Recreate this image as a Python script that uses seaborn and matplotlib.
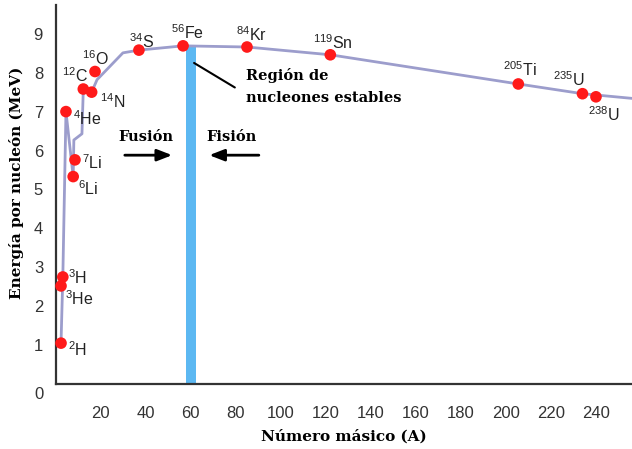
import numpy as np
import pandas as pd
import seaborn as sns
import matplotlib.pyplot as plt

# data
isotopes = ["$^{2}$H", "$^{3}$H", "$^{3}$He", "$^{4}$He", "$^{6}$Li", "$^{7}$Li",
            "$^{12}$C", "$^{14}$N", "$^{16}$O", "$^{34}$S", "$^{56}$Fe", "$^{84}$Kr",
            "$^{119}$Sn", "$^{205}$Ti", "$^{235}$U", "$^{238}$U"]
mass_A = [2.4, 3.2, 2.4, 4.6, 7.8, 8.6, 12.3, 16.0, 17.5, 37.0, 56.6, 85.0,
          122.0, 205.5, 234.0, 240.0]
energy = [1.05, 2.75, 2.52, 7.0, 5.33, 5.76, 7.58, 7.50, 8.03, 8.58, 8.69, 8.66,
          8.46, 7.71, 7.46, 7.38]

# label anchor positions (A, E) for each isotope name
label_A = [5.5, 5.5, 4.1, 7.6, 10.0, 11.6, 3.0, 19.7, 11.8, 32.5, 51.2, 80.2,
           114.5, 198.5, 221.0, 236.6]
label_E = [0.87, 2.72, 2.2, 6.83, 5.03, 5.68, 7.92, 7.26, 8.37, 8.8, 9.02, 8.97,
           8.76, 8.07, 7.81, 6.92]

# the smooth curve behind the points
curve_A = [2.4, 3.2, 4.6, 7.8, 8.1, 11.7, 12.3, 16.0, 18.4, 29.9, 37.0, 56.6,
           85.0, 122.0, 205.5, 234.0, 256.0]
curve_E = [1.05, 2.75, 7.0, 5.33, 6.27, 6.43, 7.58, 7.50, 7.82, 8.51, 8.58, 8.69,
           8.66, 8.46, 7.71, 7.46, 7.34]

band_A = [58.0, 62.5]
x_ticks = list(range(20, 241, 20))
y_ticks = list(range(1, 10))

sns.set_style("white")
plt.rcParams["font.family"] = ["Liberation Sans", "DejaVu Sans"]
plt.rcParams["mathtext.fontset"] = "custom"
plt.rcParams["mathtext.rm"] = "Liberation Sans"
plt.rcParams["mathtext.it"] = "Liberation Sans"
plt.rcParams["mathtext.bf"] = "Liberation Sans:bold"

serif_bold = dict(family="DejaVu Serif", fontweight="bold", color="black")

fig = plt.figure(figsize=(6.32, 4.49), dpi=100)
ax = fig.add_axes([0.088, 0.1448, 0.912, 0.8441])

# stable region band
fe_E = energy[isotopes.index("$^{56}$Fe")]
ax.fill_between(band_A, 0, fe_E - 0.03, color="#5cb8f2", lw=0, zorder=1)

curve = pd.DataFrame({"A": curve_A, "E": curve_E})
sns.lineplot(data=curve, x="A", y="E", sort=False, color="#9c9dcc", lw=2,
             ax=ax, zorder=2)

pts = pd.DataFrame({"A": mass_A, "E": energy})
sns.scatterplot(data=pts, x="A", y="E", color="#ff1a1a", s=70, edgecolor="none",
                ax=ax, zorder=3, clip_on=False)

for name, lx, ly in zip(isotopes, label_A, label_E):
    ax.text(lx, ly, name, fontsize=11.5, color="#222222", ha="left", va="center")

# annotations
ax.plot([61.5, 79.6], [8.25, 7.62], color="black", lw=1.5, zorder=4)
ax.text(84.5, 7.93, "Región de", fontsize=10.5, ha="left", va="center", **serif_bold)
ax.text(84.5, 7.34, "nucleones estables", fontsize=10.5, ha="left", va="center", **serif_bold)
ax.text(40.0, 6.35, "Fusión", fontsize=10.5, ha="center", va="center", **serif_bold)
ax.text(78.0, 6.35, "Fisión", fontsize=10.5, ha="center", va="center", **serif_bold)
arrow = dict(arrowstyle="-|>,head_length=0.9,head_width=0.35", color="black", lw=2)
ax.annotate("", xy=(53.0, 5.88), xytext=(29.5, 5.88), arrowprops=arrow)
ax.annotate("", xy=(67.0, 5.88), xytext=(91.5, 5.88), arrowprops=arrow)

ax.set_xlim(0, 256)
ax.set_ylim(0, 9.74)
ax.set_xticks(x_ticks)
ax.set_yticks(y_ticks)
ax.tick_params(axis="x", direction="out", length=6, width=1.3, pad=10,
               labelsize=12, colors="#333333")
ax.tick_params(axis="y", direction="out", length=6, width=1.3, pad=3,
               labelsize=12, colors="#333333")
ax.text(-0.02, -0.028, "0", transform=ax.transAxes, fontsize=12, color="#333333",
        ha="right", va="center")

sns.despine(ax=ax)
for side in ["left", "bottom"]:
    ax.spines[side].set_linewidth(1.6)
    ax.spines[side].set_color("#333333")

ax.set_xlabel("Número másico (A)", fontsize=11, labelpad=6, **serif_bold)
ax.set_ylabel("Energía por nucleón (MeV)", fontsize=11, **serif_bold)
ax.yaxis.set_label_coords(-0.055, 0.53)

fig.savefig("out.png", dpi=100)
